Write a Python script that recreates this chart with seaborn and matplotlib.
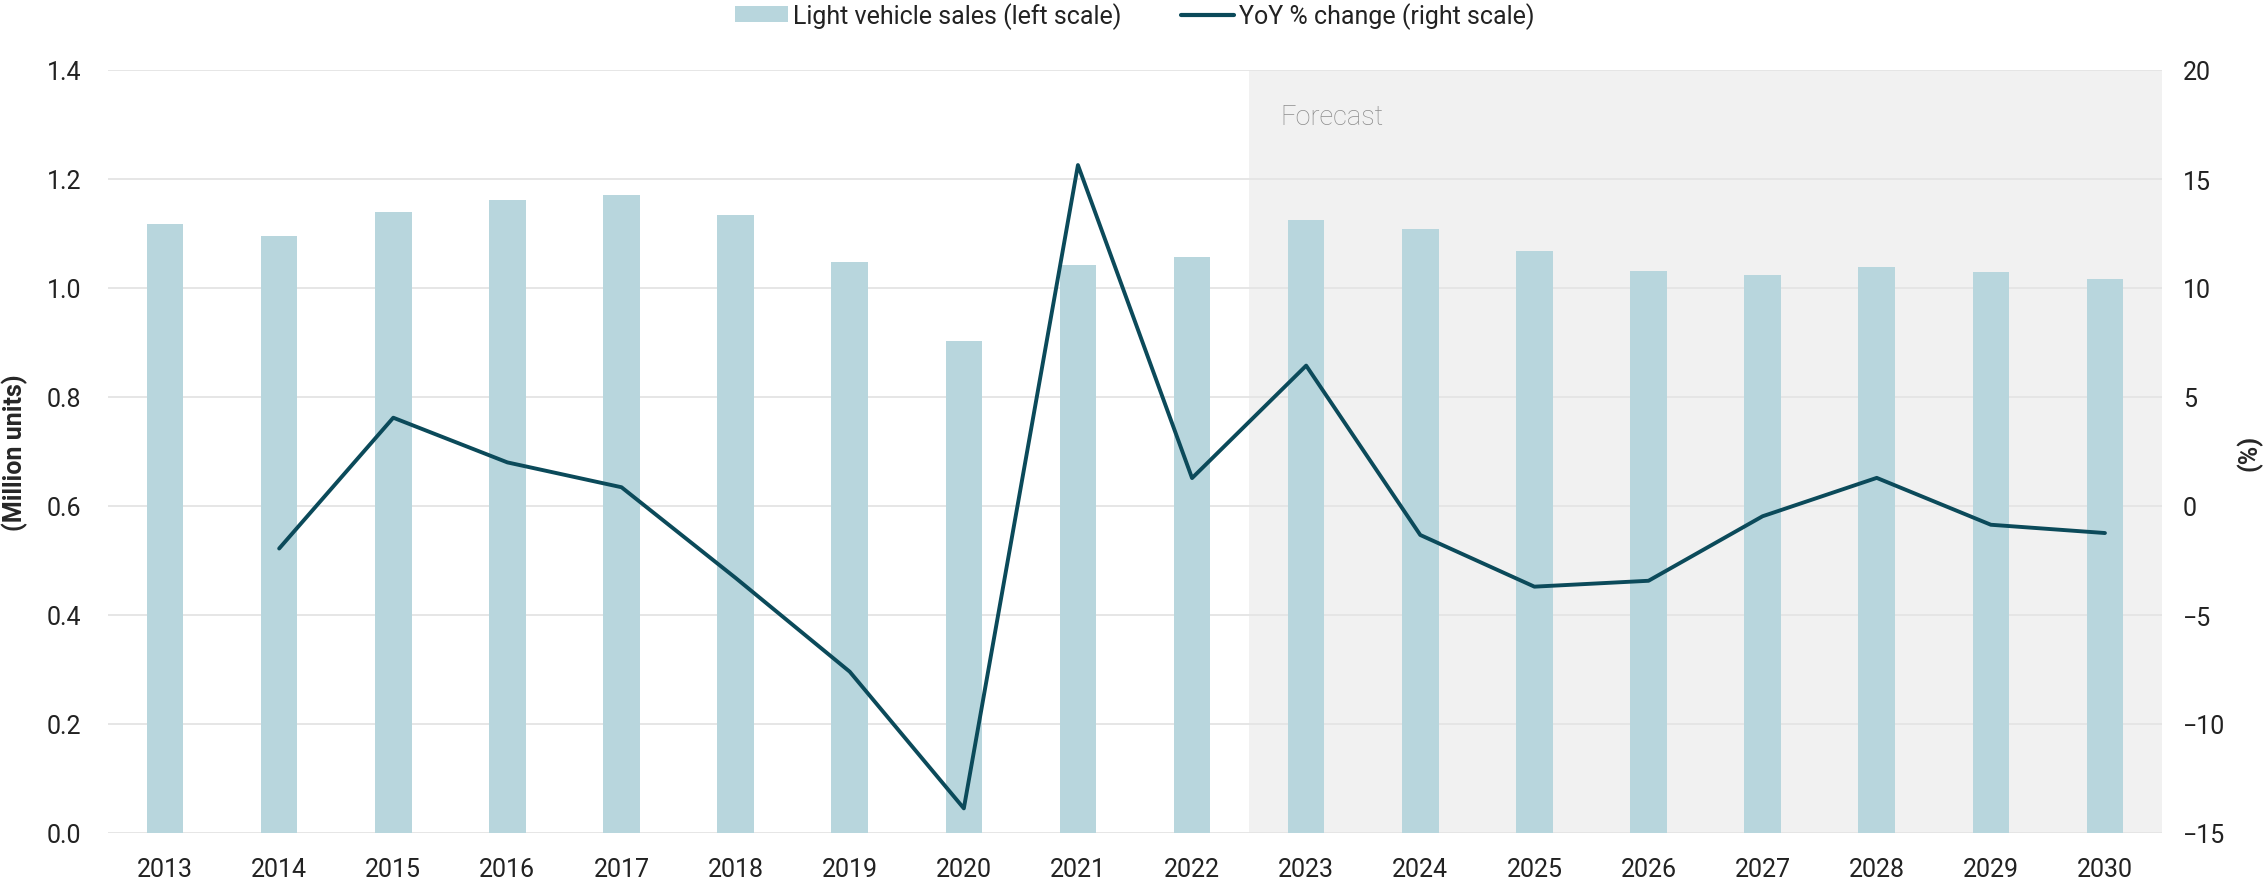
import matplotlib
matplotlib.use("Agg")
import matplotlib.pyplot as plt
import numpy as np
import pandas as pd
import seaborn as sns
from matplotlib.lines import Line2D
from matplotlib.patches import Patch
from matplotlib.ticker import FormatStrFormatter, MultipleLocator

YEARS = [str(y) for y in range(2013, 2031)]
SALES = [1.117, 1.095, 1.139, 1.161, 1.171, 1.134, 1.047, 0.902, 1.042,
         1.056, 1.124, 1.108, 1.067, 1.031, 1.024, 1.038, 1.029, 1.016]
YOY = [np.nan, -1.95, 4.05, 2.0, 0.86, -3.3, -7.6, -13.87, 15.64,
       1.28, 6.44, -1.33, -3.7, -3.43, -0.47, 1.29, -0.86, -1.24]
FORECAST_START = "2023"

BAR_COLOR = "#b8d6dd"
LINE_COLOR = "#0b4a5a"
GRID_COLOR = "#e4e4e4"
SHADE_COLOR = "#f1f1f1"
TEXT_COLOR = "#222222"

sns.set_theme(style="white")
plt.rcParams["font.family"] = ["Roboto", "DejaVu Sans"]
plt.rcParams["text.color"] = TEXT_COLOR
plt.rcParams["xtick.color"] = TEXT_COLOR
plt.rcParams["ytick.color"] = TEXT_COLOR

df = pd.DataFrame({"year": YEARS, "sales": SALES, "yoy": YOY})

fig = plt.figure(figsize=(22.65, 8.79), dpi=100)
ax = fig.add_axes([108 / 2265, 1 - 834 / 879, (2162 - 108) / 2265, (834 - 71) / 879])

sns.barplot(data=df, x="year", y="sales", color=BAR_COLOR, width=0.32,
            saturation=1, linewidth=0, ax=ax, zorder=2)
start = YEARS.index(FORECAST_START) - 0.5
ax.axvspan(start, len(YEARS) - 0.5, color=SHADE_COLOR, zorder=0, lw=0)
ax.set_xlim(-0.5, len(YEARS) - 0.5)
ax.set_ylim(0, 1.4)
ax.yaxis.set_major_locator(MultipleLocator(0.2))
ax.yaxis.set_major_formatter(FormatStrFormatter("%.1f"))
ax.grid(axis="y", color=GRID_COLOR, lw=1.3, zorder=1)
ax.set_axisbelow(True)
ax.set_xlabel("")
ax.set_ylabel("(Million units)", fontsize=18, fontweight="bold", labelpad=14)
ax.tick_params(axis="x", length=0, pad=17, labelsize=18)
ax.tick_params(axis="y", length=0, pad=19, labelsize=18)
for s in ax.spines.values():
    s.set_visible(False)

ax.text(start + 0.27, 1.315, "Forecast", fontsize=19.5, color="#8c8c8c",
        va="center", ha="left", fontweight="light")

ax2 = ax.twinx()
sns.lineplot(data=df, x="year", y="yoy", color=LINE_COLOR, lw=2.8, ax=ax2,
             sort=False)
ax2.set_ylim(-15, 20)
ax2.yaxis.set_major_locator(MultipleLocator(5))
ax2.set_ylabel("(%)", fontsize=18, fontweight="bold")
ax2.yaxis.set_label_coords(1.0424, 0.5)
ax2.yaxis.label.set_verticalalignment("center")
ax2.tick_params(axis="y", length=0, pad=15, labelsize=18)
ax2.set_xlim(-0.5, len(YEARS) - 0.5)
for s in ax2.spines.values():
    s.set_visible(False)
ax2.grid(False)

handles = [
    Patch(facecolor=BAR_COLOR, edgecolor="none", label="Light vehicle sales (left scale)"),
    Line2D([0], [0], color=LINE_COLOR, lw=3, label="YoY % change (right scale)"),
]
fig.legend(handles=handles, loc="center", bbox_to_anchor=(0.501, 0.981), ncol=2,
           frameon=False, fontsize=18, handlelength=2.1, handletextpad=0.2,
           columnspacing=2.4, handleheight=0.6)

fig.savefig("out.png", dpi=100)
